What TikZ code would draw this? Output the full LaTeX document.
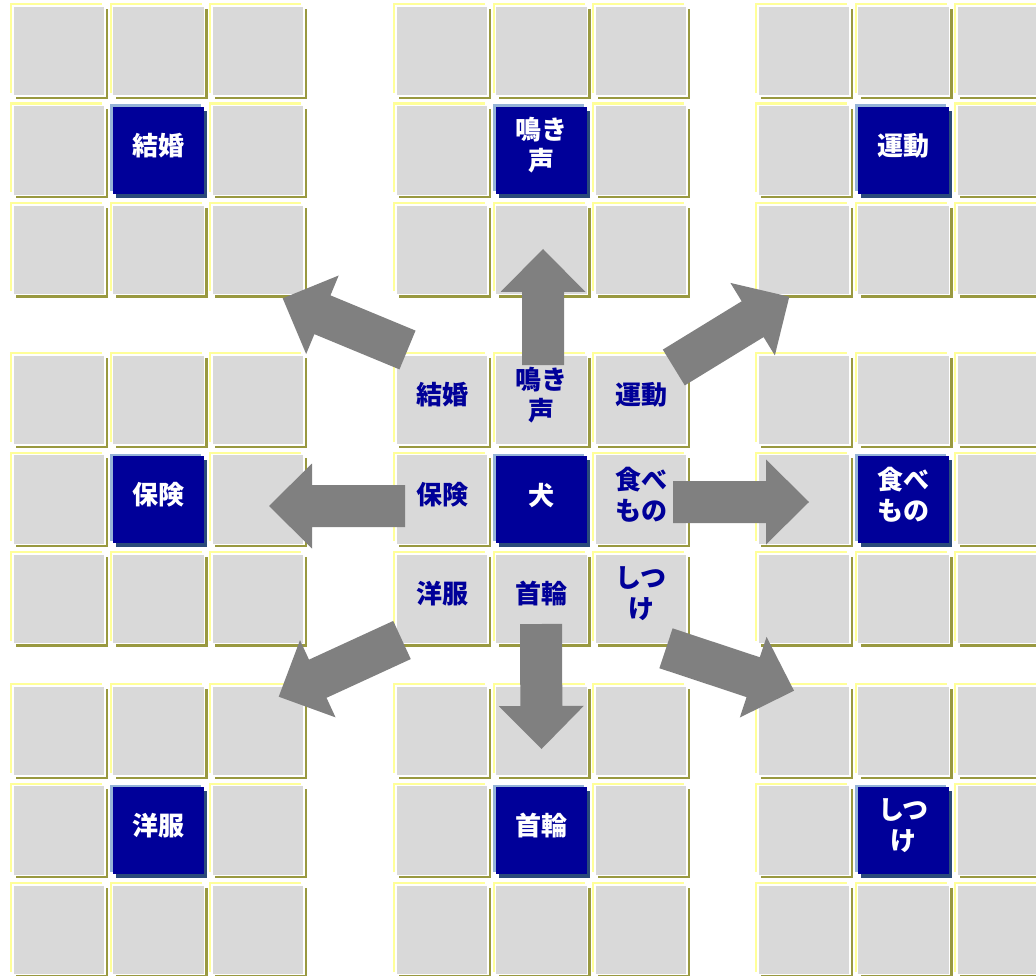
\documentclass[tikz,border=0pt]{standalone}
\usepackage{fontspec}
\setmainfont{Noto Sans CJK JP}
\usepackage{xcolor}
\usetikzlibrary{calc,shadows}

\definecolor{cellgray}{HTML}{D9D9D9}
\definecolor{rimyellow}{HTML}{FFFF99}
\definecolor{rimolive}{HTML}{999940}
\definecolor{boxblue}{HTML}{000099}
\definecolor{rimblue}{HTML}{95B3D7}
\definecolor{rimnavy}{HTML}{2A4A7A}
\definecolor{arrowgray}{HTML}{808080}

\newcommand{\fatarrow}[2]{%
  \coordinate (neck) at ($(#2)!43pt!(#1)$);
  \fill[arrowgray] ($(#1)!21pt!90:(#2)$) -- ($(neck)!21pt!90:(#2)$)
    -- ($(neck)!42.5pt!90:(#2)$) -- (#2) -- ($(neck)!42.5pt!-90:(#2)$)
    -- ($(neck)!21pt!-90:(#2)$) -- ($(#1)!21pt!-90:(#2)$) -- cycle;}

\begin{document}
\begin{tikzpicture}[x=1pt,y=-1pt,
    graybox/.style={minimum width=92pt,minimum height=89.8pt,inner sep=0pt,
      fill=cellgray,draw=white,line width=1.5pt,
      general shadow={fill=rimolive,shadow xshift=2.8pt,shadow yshift=-2.9pt},
      general shadow={fill=rimyellow,shadow xshift=-3.2pt,shadow yshift=3.2pt}},
    bluebox/.style={minimum width=91pt,minimum height=87pt,inner sep=0pt,
      fill=boxblue,draw=none,
      general shadow={fill=rimnavy,shadow xshift=3pt,shadow yshift=-3.5pt},
      general shadow={fill=rimblue,shadow xshift=-2.8pt,shadow yshift=2.6pt}},
    word/.style={align=center,inner sep=0pt,
      font=\fontsize{26}{31}\selectfont\bfseries}]
  \useasboundingbox (0,0) rectangle (1036,976);
  \clip (0,0) rectangle (1036,976);

  % nine blocks of 3x3 cells, the middle cell of each is blue
  \foreach \bx [count=\bi] in {10,393,755}
    \foreach \by [count=\bj] in {3,352,683}
      \foreach \i/\dx in {0/0,1/99.5,2/199}
        \foreach \j/\dy in {0/0,1/99.5,2/198.7} {
          \ifnum\i\j=11 \def\kind{bluebox}\else\def\kind{graybox}\fi
          \node[\kind] (cell-\bi\bj-\i\j) at (\bx+\dx+49.2,\by+\dy+48.1) {};
        }

  \foreach \cij/\bij/\word in {00/11/結婚,10/21/{鳴き\\声},20/31/運動,
      01/12/保険,21/32/{食べ\\もの},02/13/洋服,12/23/首輪,22/33/{しつ\\け}} {
    \node[word,text=white] (out-\bij) at ([yshift=5pt]cell-\bij-11.center) {\word};
    \node[word,text=boxblue] (in-\cij) at ([yshift=5pt]cell-22-\cij.center) {\word};
  }
  \node[word,text=white] (dog) at ([yshift=4pt]cell-22-11.center) {犬};

  % arrows out of the middle block
  \coordinate (tail-n) at (543,365);   \coordinate (tip-n) at (543,249);
  \coordinate (tail-s) at (541,624);   \coordinate (tip-s) at (541.5,749);
  \coordinate (tail-w) at (405,506);   \coordinate (tip-w) at (269,506);
  \coordinate (tail-e) at (673,502);   \coordinate (tip-e) at (809,502);
  \coordinate (tail-nw) at (407.5,350); \coordinate (tip-nw) at (282.7,298.3);
  \coordinate (tail-ne) at (673.8,367.5); \coordinate (tip-ne) at (789.3,296.7);
  \coordinate (tail-sw) at (402,640);  \coordinate (tip-sw) at (278.7,696.7);
  \coordinate (tail-se) at (666,648.3); \coordinate (tip-se) at (794,690.7);
  \foreach \dir in {n,s,w,e,nw,ne,sw,se}
    \fatarrow{tail-\dir}{tip-\dir};
\end{tikzpicture}
\end{document}
